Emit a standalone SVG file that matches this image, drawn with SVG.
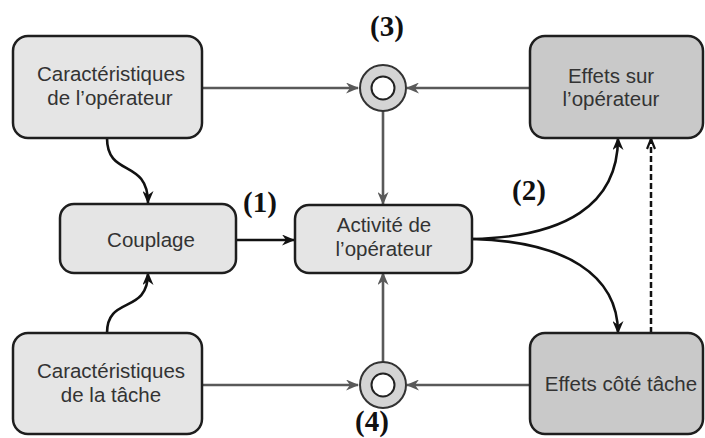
<svg xmlns="http://www.w3.org/2000/svg" width="705" height="438" viewBox="0 0 705 438">
<defs>
<style>
.box{stroke:#1e1e1e;stroke-width:2.5}
.light{fill:#e5e5e5}
.dark{fill:#c9c9c9}
.t{font-family:"Liberation Sans",Arial,sans-serif;font-size:20.5px;fill:#333;text-anchor:middle}
.num{font-family:"Liberation Serif","Times New Roman",serif;font-size:29px;font-weight:bold;fill:#111;text-anchor:middle}
.g{stroke:#595959;stroke-width:2.6;fill:none}
.k{stroke:#111;stroke-width:2.6;fill:none}
.d{stroke:#111;stroke-width:2.5;fill:none;stroke-dasharray:6 3}
.ring{fill:#d4d4d4;stroke:#333;stroke-width:2}
.hole{fill:#fff;stroke:#222;stroke-width:2}
</style>
<marker id="ag" viewBox="0 0 13 11" refX="12" refY="5.5" markerWidth="13" markerHeight="11" markerUnits="userSpaceOnUse" orient="auto">
<path d="M0,0 L13,5.5 L0,11 L4,5.5 Z" fill="#595959"/>
</marker>
<marker id="ak" viewBox="0 0 13 11" refX="12" refY="5.5" markerWidth="13" markerHeight="11" markerUnits="userSpaceOnUse" orient="auto">
<path d="M0,0 L13,5.5 L0,11 L4,5.5 Z" fill="#111"/>
</marker>
<marker id="ao" viewBox="0 0 12 10" refX="11" refY="5" markerWidth="12" markerHeight="10" markerUnits="userSpaceOnUse" orient="auto">
<path d="M1,1 L11,5 L1,9" fill="none" stroke="#111" stroke-width="2.2"/>
</marker>
</defs>
<rect width="705" height="438" fill="#fff"/>
<g id="connectors">
<line class="g" x1="202" y1="88" x2="358" y2="88" marker-end="url(#ag)"/>
<line class="g" x1="530" y1="88" x2="407" y2="88" marker-end="url(#ag)"/>
<line class="g" x1="383" y1="111" x2="383" y2="204" marker-end="url(#ag)"/>
<line class="g" x1="202" y1="385" x2="358" y2="385" marker-end="url(#ag)"/>
<line class="g" x1="530" y1="385" x2="407" y2="385" marker-end="url(#ag)"/>
<line class="g" x1="383" y1="362" x2="383" y2="273" marker-end="url(#ag)"/>
<line class="k" x1="236" y1="240" x2="294" y2="240" marker-end="url(#ak)"/>
<path class="k" d="M107,138 C107,178 148,158 148,203" marker-end="url(#ak)"/>
<path class="k" d="M107,333 C107,295 148,315 148,273" marker-end="url(#ak)"/>
<path class="k" d="M472,239 C565,237 618,205 618,138" marker-end="url(#ak)"/>
<path class="k" d="M472,239 C565,241 618,275 618,333" marker-end="url(#ak)"/>
<line class="d" x1="651" y1="333" x2="651" y2="139" marker-end="url(#ao)"/>
</g>
<g id="n-car-op">
<rect class="box light" x="13" y="36" width="189" height="102" rx="15"/>
<text class="t" x="111" y="81">Caractéristiques</text>
<text class="t" x="110" y="105">de l’opérateur</text>
</g>
<g id="n-couplage">
<rect class="box light" x="60" y="204" width="176" height="69" rx="14"/>
<text class="t" x="151" y="247">Couplage</text>
</g>
<g id="n-activite">
<rect class="box light" x="295" y="205" width="177" height="68" rx="14"/>
<text class="t" x="384" y="232">Activité de</text>
<text class="t" x="384" y="256">l’opérateur</text>
</g>
<g id="n-effets-op">
<rect class="box dark" x="530" y="36" width="173" height="102" rx="15"/>
<text class="t" x="611" y="83">Effets sur</text>
<text class="t" x="611" y="106">l’opérateur</text>
</g>
<g id="n-car-tache">
<rect class="box light" x="13" y="333" width="189" height="101" rx="15"/>
<text class="t" x="111" y="378">Caractéristiques</text>
<text class="t" x="111" y="402">de la tâche</text>
</g>
<g id="n-effets-tache">
<rect class="box dark" x="530" y="333" width="173" height="101" rx="15"/>
<text class="t" x="621" y="391">Effets côté tâche</text>
</g>
<g id="n-circle3">
<circle class="ring" cx="383" cy="88" r="23"/>
<circle class="hole" cx="383" cy="88" r="11.5"/>
</g>
<g id="n-circle4">
<circle class="ring" cx="383" cy="385" r="23"/>
<circle class="hole" cx="383" cy="385" r="11.5"/>
</g>
<g id="labels">
<text class="num" x="387" y="36">(3)</text>
<text class="num" x="260" y="212">(1)</text>
<text class="num" x="529" y="200">(2)</text>
<text class="num" x="372" y="431">(4)</text>
</g>
</svg>
